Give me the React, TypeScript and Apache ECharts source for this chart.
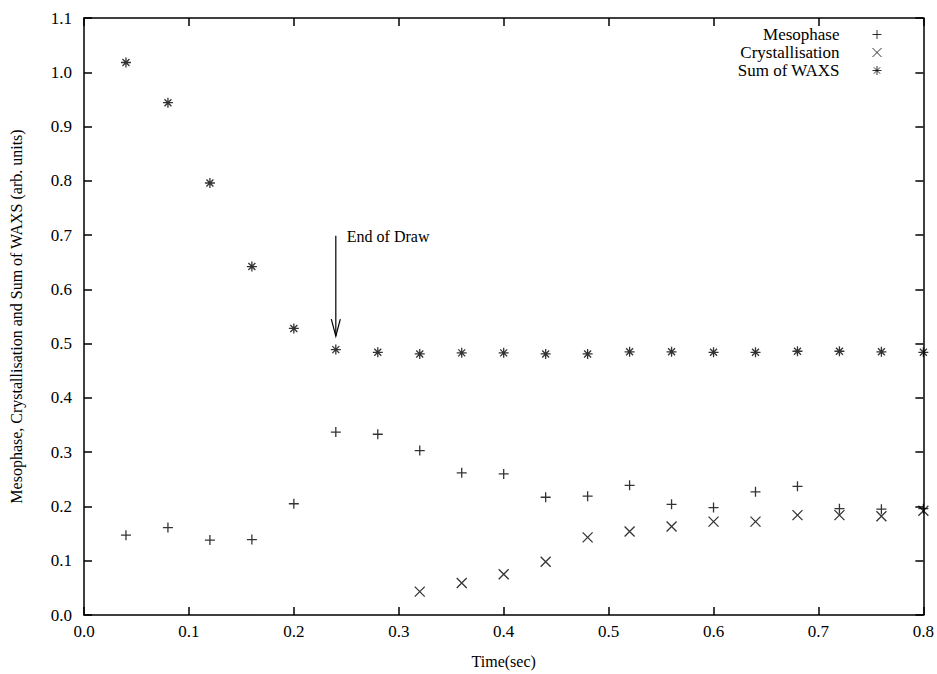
import React, { useEffect, useRef } from "react";
import * as echarts from "echarts";

const times = [0.04, 0.08, 0.12, 0.16, 0.2, 0.24, 0.28, 0.32, 0.36, 0.4, 0.44, 0.48, 0.52, 0.56, 0.6, 0.64, 0.68, 0.72, 0.76, 0.8];
const mesophase = [0.147, 0.161, 0.138, 0.139, 0.205, 0.337, 0.333, 0.303, 0.262, 0.26, 0.217, 0.219, 0.239, 0.204, 0.198, 0.227, 0.237, 0.196, 0.195, 0.196];
const crystTimes = [0.32, 0.36, 0.4, 0.44, 0.48, 0.52, 0.56, 0.6, 0.64, 0.68, 0.72, 0.76, 0.8];
const crystallisation = [0.043, 0.059, 0.075, 0.098, 0.143, 0.154, 0.163, 0.172, 0.172, 0.184, 0.184, 0.182, 0.192];
const sumWaxs = [1.018, 0.944, 0.796, 0.642, 0.528, 0.489, 0.484, 0.481, 0.483, 0.483, 0.481, 0.481, 0.485, 0.485, 0.484, 0.484, 0.486, 0.486, 0.485, 0.484];
const seriesNames = ["Mesophase", "Crystallisation", "Sum of WAXS"];
const arrowX = 0.24;
const arrowTop = 0.699;
const arrowTip = 0.514;
const annotation = "End of Draw";

const FONT = "Liberation Serif";
const PLUS = "path://M0,5 L10,5 M5,0 L5,10";
const CROSS = "path://M1,1 L9,9 M9,1 L1,9";
const STAR = "path://M0,5 L10,5 M5,0 L5,10 M1.5,1.5 L8.5,8.5 M8.5,1.5 L1.5,8.5";

export default function App() {
  const ref = useRef<HTMLDivElement>(null);
  useEffect(() => {
    if (!ref.current) return;
    const chart = echarts.init(ref.current, undefined, { renderer: "svg" });
    const axisLine = { show: true, onZero: false, lineStyle: { color: "#000", width: 1.5 } };
    const tickIn = { show: true, inside: true, length: 8, lineStyle: { color: "#000", width: 1.5 } };
    const mk = (name: string, xs: number[], ys: number[], sym: string, size: number) => ({
      name,
      type: "scatter",
      data: xs.map((x, i) => [x, ys[i]]),
      symbol: sym,
      symbolSize: size,
      clip: false,
      itemStyle: { color: "rgba(0,0,0,0)", borderColor: "#000", borderWidth: 1.3 },
    });
    chart.setOption({
      animation: false,
      backgroundColor: "#fff",
      grid: { left: 84, right: 12, top: 18, bottom: 56 },
      legend: {
        orient: "vertical",
        right: 50,
        top: 21,
        align: "right",
        itemGap: 1,
        itemWidth: 9,
        itemHeight: 9,
        data: seriesNames,
        itemStyle: { color: "rgba(0,0,0,0)", borderColor: "#000", borderWidth: 1 },
        textStyle: { fontFamily: FONT, fontSize: 17, color: "#000", width: 130, align: "right", padding: [0, 28, 0, 0] },
      },
      xAxis: [
        {
          type: "value", min: 0, max: 0.8, interval: 0.1,
          name: "Time(sec)", nameLocation: "middle", nameGap: 38,
          nameTextStyle: { fontFamily: FONT, fontSize: 16, color: "#000" },
          axisLine, axisTick: tickIn, splitLine: { show: false },
          axisLabel: { fontFamily: FONT, fontSize: 17, color: "#000", margin: 8, formatter: (v: number) => v.toFixed(1) },
        },
        {
          type: "value", position: "top", min: 0, max: 0.8, interval: 0.1,
          axisLine, axisTick: tickIn, splitLine: { show: false }, axisLabel: { show: false },
        },
      ],
      yAxis: [
        {
          type: "value", min: 0, max: 1.1, interval: 0.1,
          name: "Mesophase, Crystallisation and Sum of WAXS (arb. units)", nameLocation: "middle", nameGap: 60,
          nameTextStyle: { fontFamily: FONT, fontSize: 16, color: "#000" },
          axisLine, axisTick: tickIn, splitLine: { show: false },
          axisLabel: { fontFamily: FONT, fontSize: 17, color: "#000", margin: 12, formatter: (v: number) => v.toFixed(1) },
        },
        {
          type: "value", position: "right", min: 0, max: 1.1, interval: 0.1,
          axisLine, axisTick: tickIn, splitLine: { show: false }, axisLabel: { show: false },
        },
      ],
      series: [
        mk(seriesNames[0], times, mesophase, PLUS, 10),
        mk(seriesNames[1], crystTimes, crystallisation, CROSS, 10),
        mk(seriesNames[2], times, sumWaxs, STAR, 10),
      ],
    });
    const top = chart.convertToPixel({ gridIndex: 0 }, [arrowX, arrowTop]) as number[];
    const tip = chart.convertToPixel({ gridIndex: 0 }, [arrowX, arrowTip]) as number[];
    chart.setOption({
      graphic: [
        { type: "line", shape: { x1: top[0], y1: top[1], x2: tip[0], y2: tip[1] }, style: { stroke: "#000", lineWidth: 1.2 } },
        {
          type: "polyline",
          shape: { points: [[tip[0] - 4.5, tip[1] - 17], [tip[0], tip[1]], [tip[0] + 4.5, tip[1] - 17]] },
          style: { stroke: "#000", lineWidth: 1.2, fill: "none" },
        },
        {
          type: "text", x: top[0] + 11, y: top[1] + 1,
          style: { text: annotation, fontFamily: FONT, fontSize: 16, fill: "#000", verticalAlign: "middle" },
        },
      ],
    });
    return () => chart.dispose();
  }, []);
  return <div ref={ref} style={{ width: 937, height: 674, position: "absolute", left: 0, top: 0 }} />;
}
